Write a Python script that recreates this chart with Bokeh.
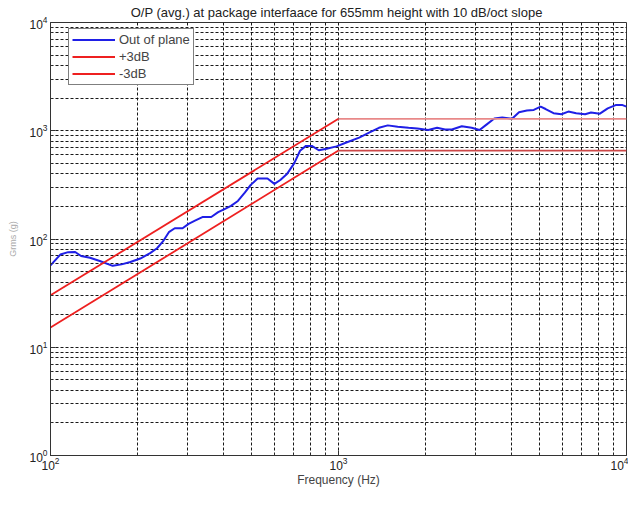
from bokeh.plotting import figure
from bokeh.models import FixedTicker, Legend, LegendItem, ColumnDataSource
from bokeh.embed import file_html
from bokeh.resources import INLINE

# ---- data ----
freq = [100, 108.2, 115.2, 121.8, 127.7, 137.1, 148.3, 164.4, 176.5, 189.4,
        204.9, 221.8, 234.4, 245.7, 257.6, 270.1, 287.5, 301.6, 318.7, 336.9,
        361.5, 382.1, 403.8, 423.4, 447.4, 472.8, 495.7, 523.9, 566.8, 599.1,
        628.1, 663.8, 701.5, 735.4, 770.9, 808.1, 854.1, 909.7, 984.4, 1065,
        1180, 1277, 1382, 1483, 1605, 1751, 1879, 2049, 2200, 2344,
        2476, 2680, 2900, 3088, 3264, 3476, 3703, 4006, 4234, 4510,
        4765, 5036, 5238, 5580, 5943, 6281, 6689, 7181, 7530, 8082,
        8607, 9168, 9690, 10000]
out_of_plane = [57.1, 71.8, 75.6, 75.9, 69.6, 67.0, 62.7, 56.5, 58.3, 61.4,
                66.0, 74.0, 82.1, 94.9, 115.6, 125.7, 125.7, 138.0, 148.3, 159.5,
                159.5, 176.9, 190.2, 202.4, 224.5, 267.9, 316.2, 362.0, 362.0, 322.9,
                350.8, 401.6, 499.4, 653.6, 724.6, 724.6, 660.5, 681.3, 717.5, 779.6,
                864.7, 959.2, 1064, 1121, 1087, 1064, 1049, 1015, 1064, 1027,
                1027, 1102, 1064, 1015, 1140, 1297, 1329, 1291, 1483, 1536,
                1556, 1670, 1588, 1452, 1422, 1504, 1452, 1422, 1474, 1438,
                1611, 1726, 1726, 1670]

band_freq = [100, 1000, 10000]
plus3 = [30.2, 1290, 1290]
minus3 = [15.2, 656, 656]

x_major = [100, 1000, 10000]
y_major = [1, 10, 100, 1000, 10000]
mant = [2, 3, 4, 5, 6, 7, 8, 9]

FONT = "Liberation Sans"

p = figure(width=628, height=489, x_axis_type="log", y_axis_type="log",
           x_range=(100, 10000), y_range=(1, 10000),
           output_backend="svg", toolbar_location=None,
           title="O/P  (avg.) at package interfaace for 655mm height with 10 dB/oct slope")
p.min_border_left = 50
p.min_border_right = 2
p.min_border_top = 22
p.min_border_bottom = 26

p.title.align = "center"
p.title.text_font = FONT
p.title.text_font_size = "13px"
p.title.text_font_style = "normal"
p.title.text_color = "#222222"
p.title.standoff = 5

x_minor = [m * d for d in x_major[:-1] for m in mant]
y_minor = [m * d for d in y_major[:-1] for m in mant]
p.xaxis.ticker = FixedTicker(ticks=x_major, minor_ticks=x_minor)
p.yaxis.ticker = FixedTicker(ticks=y_major, minor_ticks=y_minor)

for ax in (p.xaxis, p.yaxis):
    ax.major_label_text_font = FONT
    ax.major_label_text_font_size = "12px"
    ax.major_label_text_color = "#222222"
    ax.axis_label_text_font = FONT
    ax.axis_label_text_font_size = "12px"
    ax.axis_label_text_font_style = "normal"
    ax.axis_line_color = "#333333"
    ax.major_tick_in = 5
    ax.major_tick_out = 0
    ax.minor_tick_in = 2
    ax.minor_tick_out = 0
    ax.major_tick_line_color = "#333333"
    ax.minor_tick_line_color = "#333333"

p.xaxis.axis_label = "Frequency (Hz)"
p.xaxis.axis_label_standoff = 0
p.xaxis.major_label_standoff = 1
p.yaxis.axis_label = "Grms (g)"
p.yaxis.axis_label_text_color = "#aaaaaa"
p.yaxis.axis_label_text_font_size = "9px"
p.yaxis.axis_label_standoff = 8
p.yaxis.major_label_standoff = 3

for g in (p.xgrid, p.ygrid):
    g.grid_line_color = "black"
    g.grid_line_dash = "3 2"
    g.grid_line_alpha = 0.9
    g.minor_grid_line_color = "black"
    g.minor_grid_line_dash = "3 2"
    g.minor_grid_line_alpha = 0.9

p.outline_line_color = "#333333"
p.background_fill_color = "white"
p.border_fill_color = "white"

src = ColumnDataSource(dict(f=freq, v=out_of_plane))

r_blue = p.line("f", "v", source=src, line_color="#1f1fe6", line_width=2)
r_hi = p.line(band_freq[:2], plus3[:2], line_color="#ee2020", line_width=1.8)
p.line(band_freq[1:], plus3[1:], line_color="#e88888", line_width=1.8)
r_lo = p.line(band_freq[:2], minus3[:2], line_color="#ee2020", line_width=1.8)
p.line(band_freq[1:], minus3[1:], line_color="#cc4848", line_width=1.8)

legend = Legend(items=[LegendItem(label="Out of plane", renderers=[r_blue]),
                       LegendItem(label="+3dB", renderers=[r_hi]),
                       LegendItem(label="-3dB", renderers=[r_lo])],
                location=(18, 370))
legend.label_text_font = FONT
legend.label_text_font_size = "13px"
legend.label_height = 13
legend.glyph_height = 13
legend.glyph_width = 43
legend.spacing = 2
legend.padding = 3
legend.label_standoff = 4
legend.border_line_color = "black"
legend.border_line_width = 1
legend.background_fill_alpha = 1.0
p.add_layout(legend)

open("out.html", "w").write(file_html(p, INLINE))
